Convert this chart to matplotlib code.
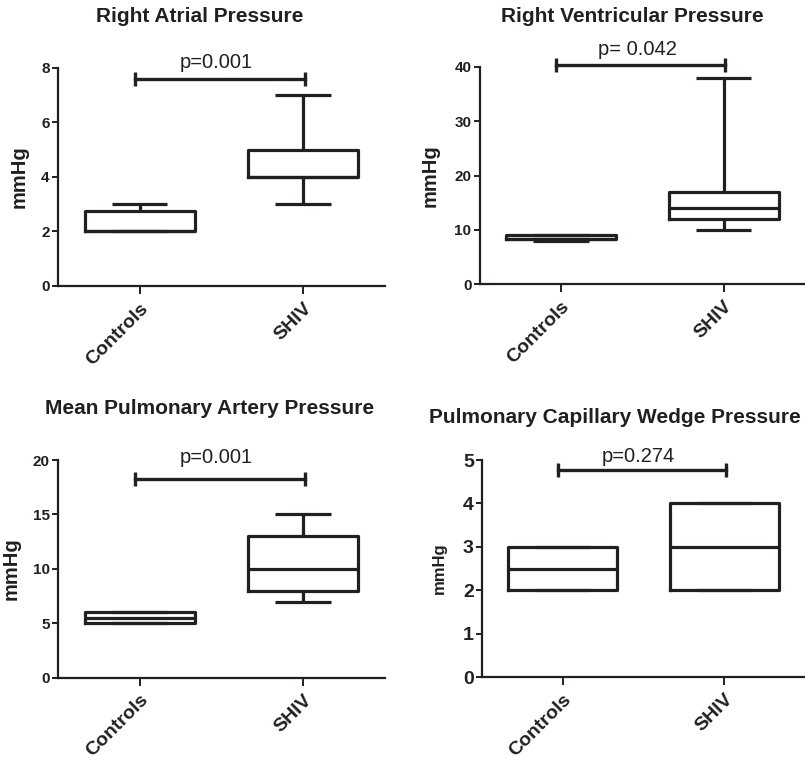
import numpy as np
import matplotlib
matplotlib.use('Agg')
import matplotlib.pyplot as plt

plt.rcParams['font.family'] = ['Liberation Sans', 'DejaVu Sans']

ink = '#231f20'

groups = ['Controls', 'SHIV']

# five-number summaries: [min, q1, median, q3, max]
ra_controls = [2, 2, 2, 2.75, 3]
ra_shiv = [3, 4, 4, 5, 7]
rv_controls = [7.9, 8.3, 8.3, 9.0, 9.0]
rv_shiv = [10, 12, 14, 17, 38]
mpa_controls = [5, 5, 5.5, 6, 6]
mpa_shiv = [7, 8, 10, 13, 15]
pcwp_controls = [2, 2, 2.5, 3, 3]
pcwp_shiv = [2, 2, 3, 4, 4]

titles = ['Right Atrial Pressure', 'Right Ventricular Pressure',
          'Mean Pulmonary Artery Pressure', 'Pulmonary Capillary Wedge Pressure']
p_labels = ['p=0.001', 'p= 0.042', 'p=0.001', 'p=0.274']
bracket_y = [7.6, 40.4, 18.25, 4.78]
p_text_y = [8.0, 42.2, 19.7, 4.95]
y_max = [8, 40, 20, 5]
y_step = [2, 10, 5, 1]

summaries = [(ra_controls, ra_shiv), (rv_controls, rv_shiv),
             (mpa_controls, mpa_shiv), (pcwp_controls, pcwp_shiv)]

# layout (figure fractions) and per-panel tweaks
positions = [[0.072, 0.6237, 0.406, 0.287],
             [0.596, 0.626, 0.404, 0.286],
             [0.072, 0.1083, 0.406, 0.2864],
             [0.599, 0.109, 0.401, 0.2857]]
title_xy = [(0.434, 1.234), (0.47, 1.23), (0.465, 1.239), (0.41, 1.198)]
ylabel_x = [-0.089, -0.123, -0.113, -0.11]
ylabel_size = [14.5, 14.5, 14.5, 12]
ylabel_weight = ['bold', 'bold', 'bold', 'semibold']
ytick_size = [11, 11, 11, 14]

fig = plt.figure(figsize=(8.05, 7.6), dpi=100)

for i in range(4):
    ax = fig.add_axes(positions[i])
    stats = []
    for name, s in zip(groups, summaries[i]):
        stats.append(dict(label=name, whislo=s[0], q1=s[1], med=s[2],
                          q3=s[3], whishi=s[4], fliers=[]))
    lp = dict(color=ink, linewidth=2.3, solid_capstyle='butt')
    ax.bxp(stats, positions=[1, 2], widths=0.675, capwidths=0.34,
           showfliers=False, patch_artist=False,
           boxprops=dict(color=ink, linewidth=2.3),
           medianprops=dict(color=ink, linewidth=2.3),
           whiskerprops=lp, capprops=lp)

    ax.set_xlim(0.5, 2.5)
    ax.set_ylim(0, y_max[i])
    ax.set_yticks(np.arange(0, y_max[i] + 0.01, y_step[i]))
    ax.set_xticks([1, 2])
    ax.set_xticklabels(groups, rotation=45, ha='right', rotation_mode='anchor',
                       fontsize=14, fontweight='bold', color=ink)
    for lab in ax.get_yticklabels():
        lab.set_fontsize(ytick_size[i])
        lab.set_fontweight('bold')
        lab.set_color(ink)

    for side in ['top', 'right']:
        ax.spines[side].set_visible(False)
    for side in ['left', 'bottom']:
        ax.spines[side].set_linewidth(1.6)
        ax.spines[side].set_color(ink)
    ax.tick_params(axis='y', direction='out', length=4, width=1.4, color=ink, pad=2)
    ax.tick_params(axis='x', direction='out', length=6, width=1.4, color=ink, pad=4)

    ax.set_ylabel('mmHg', fontsize=ylabel_size[i], fontweight=ylabel_weight[i], color=ink)
    ax.yaxis.set_label_coords(ylabel_x[i], 0.5)

    ax.text(title_xy[i][0], title_xy[i][1], titles[i], transform=ax.transAxes,
            ha='center', va='center', fontsize=15, fontweight='bold', color=ink)

    # significance bracket
    ax.plot([0.97, 2.01], [bracket_y[i], bracket_y[i]], color=ink, linewidth=2.4,
            marker='|', markersize=10, markeredgewidth=2.4, clip_on=False)
    ax.text(1.47, p_text_y[i], p_labels[i], ha='center', va='baseline',
            fontsize=14.5, color=ink, clip_on=False)

fig.savefig('out.png', dpi=100)
